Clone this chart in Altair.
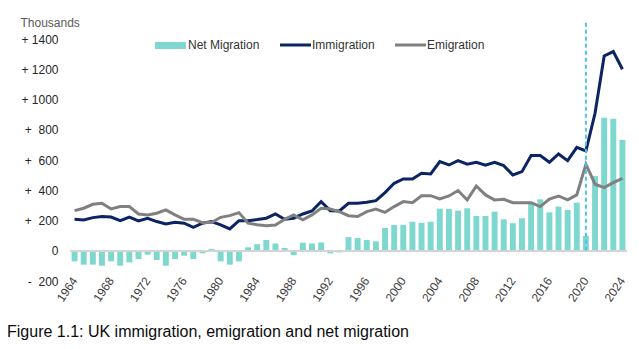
import altair as alt
import pandas as pd

# ---------------- data (thousands) ----------------
years = list(range(1964, 2025))

immigration = [208, 203, 219, 226, 223, 199, 223, 197, 215, 193,
               177, 188, 182, 155, 182, 193, 171, 144, 199, 199,
               206, 215, 243, 208, 215, 243, 263, 325, 265, 263,
               314, 314, 320, 331, 384, 446, 475, 475, 512, 508,
               589, 567, 596, 572, 585, 565, 585, 563, 501, 523,
               629, 629, 585, 640, 596, 684, 660, 909, 1288, 1317,
               1200]

emigration = [265, 281, 307, 314, 276, 292, 292, 243, 237, 248,
              270, 237, 208, 208, 186, 186, 221, 232, 252, 182,
              172, 166, 170, 208, 237, 204, 237, 281, 276, 259,
              232, 226, 259, 276, 254, 292, 325, 318, 364, 364,
              342, 362, 398, 336, 428, 369, 336, 340, 318, 318,
              318, 292, 342, 362, 336, 369, 572, 440, 417, 450,
              479]

net_migration = [-70, -92, -92, -99, -70, -99, -77, -55, -26, -61,
                 -99, -55, -33, -55, -17, 12, -70, -92, -70, 23,
                 44, 71, 48, 18, -29, 53, 48, 55, -18, -11,
                 90, 84, 71, 62, 150, 170, 170, 192, 185, 192,
                 278, 276, 265, 281, 230, 230, 259, 208, 182, 215,
                 318, 340, 254, 292, 270, 318, 98, 494, 880, 873,
                 733]

y_ticks = [-200, 0, 200, 400, 600, 800, 1000, 1200, 1400]
x_label_years = list(range(1964, 2025, 4))
marker_year = [2020]
marker_top = [1525]
legend_labels = ["Net Migration", "Immigration", "Emigration"]
title_text = ["Figure 1.1: UK immigration, emigration and net migration"]

# ---------------- styles ----------------
TEAL = "#7fd8cf"
NAVY = "#0b2463"
GREY = "#808080"
DASH = "#4fc3ea"
FONT = "Liberation Sans"

df = pd.DataFrame({"year": years, "imm": immigration,
                   "emi": emigration, "net": net_migration})

x_axis = alt.Axis(values=x_label_years, labelAngle=-56, labelPadding=-3,
                  ticks=False, domain=False, title=None, labelFont=FONT,
                  labelFontSize=12, labelColor="#404040", labelOverlap=False)
x_scale = alt.Scale(paddingInner=0.35, paddingOuter=0.175)
y_scale = alt.Scale(domain=[-200, 1400], nice=False, zero=False)
y_axis = alt.Axis(values=y_ticks, grid=False, ticks=False, domain=False,
                  labelPadding=12, labelFont=FONT, labelFontSize=12,
                  labelColor="#262626", labelOverlap=False, labelSeparation=0,
                  labelExpr="datum.value > 0 ? (datum.value < 1000 ? '+\u00a0\u00a0' : '+ ') + datum.value : (datum.value < 0 ? '-\u00a0\u00a0' + abs(datum.value) : '0')",
                  title="Thousands", titleAngle=0, titleX=-50, titleY=-13,
                  titleAlign="left", titleBaseline="alphabetic",
                  titleFont=FONT, titleFontSize=12, titleFontWeight="normal",
                  titleColor="#595959")

X = alt.X("year:O", scale=x_scale, axis=x_axis)

bars = alt.Chart(df).mark_bar(color=TEAL).encode(
    x=X, y=alt.Y("net:Q", scale=y_scale, axis=y_axis))

zero = alt.Chart(df).mark_rule(color="#d4d4d4", strokeWidth=1.5).encode(
    y=alt.Y(datum=0, scale=y_scale, axis=y_axis))

imm_line = alt.Chart(df).mark_line(color=NAVY, strokeWidth=3).encode(
    x=X, y=alt.Y("imm:Q", scale=y_scale, axis=y_axis))

emi_line = alt.Chart(df).mark_line(color=GREY, strokeWidth=3).encode(
    x=X, y=alt.Y("emi:Q", scale=y_scale, axis=y_axis))

mk = pd.DataFrame({"year": marker_year, "top": marker_top, "base": [0]})
marker = alt.Chart(mk).mark_rule(color=DASH, strokeWidth=2,
                                 strokeDash=[4, 3], clip=False).encode(
    x=X, y=alt.Y("base:Q", scale=y_scale, axis=y_axis), y2="top:Q")

# ---------------- manual legend ----------------
def one(label):
    return pd.DataFrame({"label": [label]})

leg_rect = alt.Chart(one(legend_labels[0])).mark_rect(color=TEAL).encode(
    x=alt.value(85), x2=alt.value(116), y=alt.value(3), y2=alt.value(10))
leg_imm = alt.Chart(one(legend_labels[1])).mark_rule(color=NAVY, strokeWidth=3).encode(
    x=alt.value(210), x2=alt.value(241), y=alt.value(6))
leg_emi = alt.Chart(one(legend_labels[2])).mark_rule(color=GREY, strokeWidth=3).encode(
    x=alt.value(325), x2=alt.value(356), y=alt.value(6))

def leg_text(label, xpos):
    return alt.Chart(one(label)).mark_text(
        align="left", baseline="middle", font=FONT, fontSize=12,
        color="#333333").encode(x=alt.value(xpos), y=alt.value(6),
                                text="label:N")

t1 = leg_text(legend_labels[0], 118)
t2 = leg_text(legend_labels[1], 242)
t3 = leg_text(legend_labels[2], 357)

title = alt.Chart(pd.DataFrame({"t": title_text})).mark_text(
    align="left", baseline="alphabetic", font=FONT, fontSize=16,
    color="#0b0c0c").encode(x=alt.value(-63), y=alt.value(298), text="t:N")

chart = alt.layer(bars, zero, imm_line, emi_line, marker,
                  leg_rect, leg_imm, leg_emi, t1, t2, t3, title).properties(
    width=557, height=242,
    padding={"left": 70, "top": 39, "right": 12, "bottom": 68},
    autosize=alt.AutoSizeParams(type="none"),
    background="white",
).configure_view(stroke=None).configure_axisY(labelOverlap=False)

chart.save("out.html", embed_options={"renderer": "svg", "actions": False})
